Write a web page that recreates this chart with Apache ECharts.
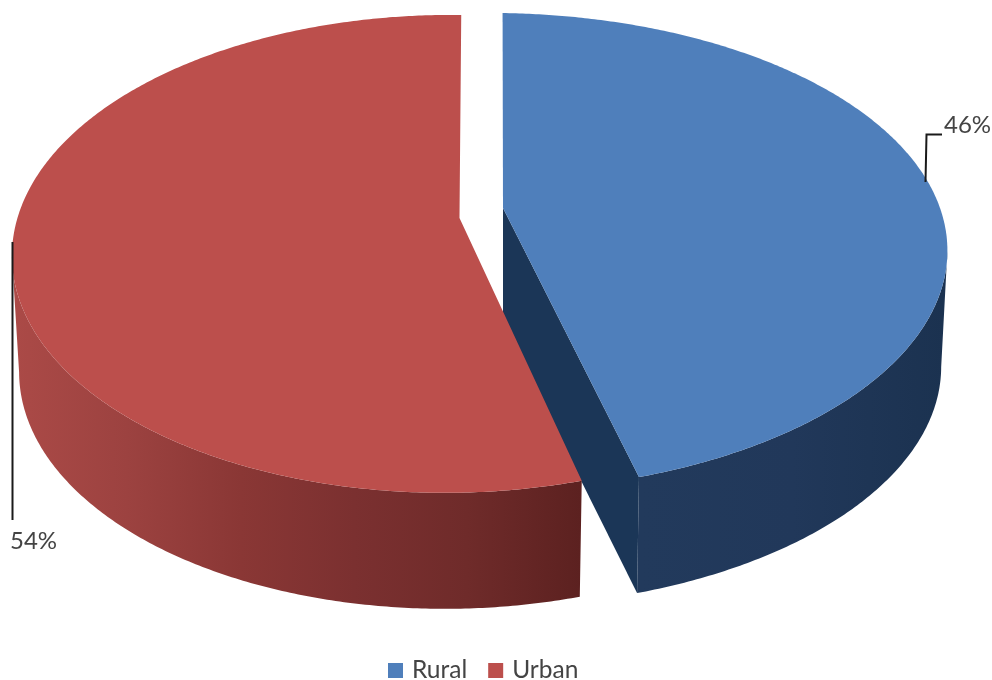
<!DOCTYPE html>
<html>
<head>
<meta charset="utf-8">
<style>html,body{margin:0;padding:0;background:#fff}#chart{width:992px;height:680px}</style>
<script src="https://cdn.jsdelivr.net/npm/echarts@6/dist/echarts.min.js"></script>
</head>
<body>
<div id="chart"></div>
<script>
// Chart values
const categories = ['Rural', 'Urban'];
const shares = [46, 54];
const topColors = ['#4f7fbb', '#bc4f4c'];

// Perspective projection of each exploded slice onto the screen:
// a,b = apex; A,B = plane scale; C = shear; p,q = perspective terms; s = scale of the lower rim.
const projections = [
  { a: 503, b: 208, A: 452.3, B: 230.8, C: -0.5, p: 0.1837, q: 0.035, s: 0.986 },
  { a: 459.5, b: 218, A: 431, B: 233.5, C: 2, p: 0.15, q: 0.025, s: 0.984 }
];
const DEPTH = 116;
const outerWalls = [
  { gradient: [640, 945], stops: ['#223a5c', '#21385a', '#1b3250'] },
  { gradient: [14, 581], stops: ['#ab4a47', '#9c4240', '#8a3735', '#7b3030', '#6f2b2a', '#5c2120'] }
];
const cutWallColors = ['#1b3657', null];
const leaders = [
  { points: [[925.5, 182], [926.5, 134.5], [942, 134.5]], labelX: 944, labelY: 125 },
  { points: [[12.5, 242], [12.5, 520]], labelX: 10, labelY: 541 }
];

const total = shares.reduce((s, v) => s + v, 0);
const sampleStep = 0.5;

function project(g, deg) {
  const t = deg * Math.PI / 180;
  const X = Math.sin(t), Y = Math.cos(t);
  const w = 1 + g.p * Y + g.q * X;
  return [g.a + (g.A * X + g.C * Y) / w, g.b - g.B * Y / w];
}
function lower(g, pt) {
  return [g.a + g.s * (pt[0] - g.a), pt[1] + DEPTH];
}
function arc(g, from, to) {
  const pts = [];
  const n = Math.ceil(Math.abs(to - from) / sampleStep);
  for (let i = 0; i <= n; i++) pts.push(project(g, from + (to - from) * i / n));
  return pts;
}
function spreadStops(colors) {
  return colors.map((color, i) => ({ offset: i / (colors.length - 1), color }));
}

// Keep only the stretch of the rim between the slice tip and the silhouette:
// the point furthest from the apex horizontally is where the side wall turns out of view.
function frontRim(g, points, tipAtEnd) {
  let extreme = 0;
  points.forEach((pt, i) => {
    if (Math.abs(pt[0] - g.a) > Math.abs(points[extreme][0] - g.a)) extreme = i;
  });
  return tipAtEnd ? points.slice(extreme) : points.slice(0, extreme + 1);
}

function renderSlice(params, api) {
  const idx = params.seriesIndex;
  const g = projections[idx];
  const value = api.value(0);
  const before = shares.slice(0, idx).reduce((s, v) => s + v, 0);
  const start = before / total * 360;
  const end = (before + value) / total * 360;
  const rim = arc(g, start, end);
  const children = [];

  // Outer wall of the slice, front-facing stretch only
  const wall = outerWalls[idx];
  const upper = frontRim(g, rim, idx === 0);
  children.push({
    type: 'polygon',
    shape: { points: upper.concat(upper.map(pt => lower(g, pt)).reverse()) },
    style: {
      fill: {
        type: 'linear', global: true,
        x: wall.gradient[0], y: 0,
        x2: wall.gradient[1], y2: 0,
        colorStops: spreadStops(wall.stops)
      }
    }
  });

  // Cut face exposed by the explosion
  if (cutWallColors[idx]) {
    const apex = [g.a, g.b];
    const tip = project(g, end);
    children.push({
      type: 'polygon',
      shape: { points: [apex, tip, lower(g, tip), lower(g, apex)] },
      style: { fill: cutWallColors[idx] }
    });
  }

  // Top face
  children.push({
    type: 'polygon',
    shape: { points: [[g.a, g.b]].concat(rim) },
    style: { fill: topColors[idx] }
  });

  // Leader line and percentage label
  const leader = leaders[idx];
  children.push({
    type: 'polyline',
    shape: { points: leader.points },
    style: { stroke: '#1a1a1a', lineWidth: 2, fill: null }
  });
  children.push({
    type: 'text',
    style: {
      text: value + '%',
      x: leader.labelX,
      y: leader.labelY,
      fontFamily: 'Lato',
      fontSize: 24,
      fill: '#444',
      textAlign: 'left',
      textVerticalAlign: 'middle'
    }
  });

  return { type: 'group', children };
}

const chart = echarts.init(document.getElementById('chart'), null, { renderer: 'canvas' });
chart.setOption({
  animation: false,
  backgroundColor: '#fff',
  color: topColors,
  legend: {
    data: categories,
    left: 388,
    top: 658,
    padding: 0,
    icon: 'rect',
    itemWidth: 15,
    itemHeight: 15,
    itemGap: 21,
    textStyle: { fontFamily: 'Lato', fontSize: 24.5, color: '#444', padding: [0, 0, 0, 4] }
  },
  series: categories.map((name, i) => ({
    type: 'custom',
    name,
    coordinateSystem: 'none',
    silent: true,
    itemStyle: { color: topColors[i] },
    data: [[shares[i]]],
    renderItem: renderSlice
  }))
});
</script>
</body>
</html>
